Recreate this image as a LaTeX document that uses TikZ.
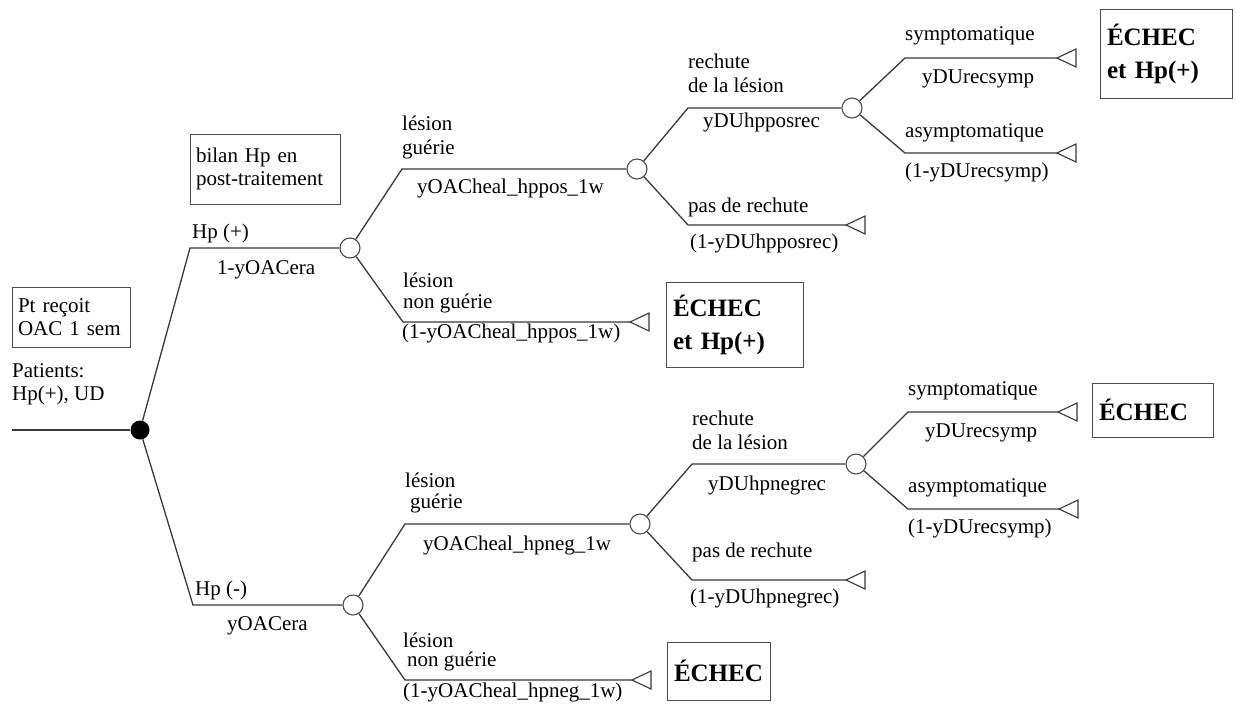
\documentclass[tikz,border=0pt]{standalone}
\usepackage{fontspec}
\setmainfont{Liberation Serif}
\begin{document}
\begin{tikzpicture}[x=1pt,y=-1pt,
  branch/.style={draw=black!78, line width=1.3pt},
  chance/.style={circle, draw=black!70, fill=white, line width=1.1pt, minimum size=20pt, inner sep=0pt},
  decision/.style={circle, fill=black, minimum size=19pt, inner sep=0pt},
  lbl/.style={anchor=base west, inner sep=0pt, font=\fontsize{21}{23}\selectfont},
  note/.style={draw=black!70, line width=0.8pt, align=left, font=\fontsize{21}{23}\selectfont, inner xsep=6pt, inner ysep=0pt},
  outcome/.style={draw=black!70, line width=0.8pt, align=left, font=\fontsize{25}{33}\selectfont\bfseries, inner xsep=7pt, inner ysep=0pt},
  term/.pic={\draw[draw=black!78, line width=1.1pt, line join=miter] (0,0) -- (19,-9) -- (19,9) -- cycle;}
]
\useasboundingbox (0,0) rectangle (1236,713);

% ---- tree nodes
\node[decision] (root) at (140,430) {};
\node[chance] (c1) at (350,248) {};
\node[chance] (c2) at (637,169) {};
\node[chance] (c3) at (852,108) {};
\node[chance] (c4) at (353,605) {};
\node[chance] (c5) at (640,524) {};
\node[chance] (c6) at (856,464) {};

% ---- branch corners and terminal points
\coordinate (in) at (12,430);
\coordinate (k0a) at (190,248);
\coordinate (k0b) at (193,605);
\coordinate (k11) at (402,169);
\coordinate (k12) at (403,322);  \coordinate (t12) at (630,322);
\coordinate (k21) at (688,108);
\coordinate (k22) at (688,225);  \coordinate (t22) at (846,225);
\coordinate (k31) at (905,58);   \coordinate (t31) at (1057,58);
\coordinate (k32) at (905,153);  \coordinate (t32) at (1057,153);
\coordinate (k41) at (405,524);
\coordinate (k42) at (405,680);  \coordinate (t42) at (632,680);
\coordinate (k51) at (692,464);
\coordinate (k52) at (692,580);  \coordinate (t52) at (846,580);
\coordinate (k61) at (908,412);  \coordinate (t61) at (1058,412);
\coordinate (k62) at (908,509);  \coordinate (t62) at (1059,509);

% ---- connectors
\draw[branch] (in) -- (root);
\draw[branch] (root) -- (k0a) -- (c1);
\draw[branch] (root) -- (k0b) -- (c4);
\draw[branch] (c1) -- (k11) -- (c2);
\draw[branch] (c1) -- (k12) -- (t12);
\draw[branch] (c2) -- (k21) -- (c3);
\draw[branch] (c2) -- (k22) -- (t22);
\draw[branch] (c3) -- (k31) -- (t31);
\draw[branch] (c3) -- (k32) -- (t32);
\draw[branch] (c4) -- (k41) -- (c5);
\draw[branch] (c4) -- (k42) -- (t42);
\draw[branch] (c5) -- (k51) -- (c6);
\draw[branch] (c5) -- (k52) -- (t52);
\draw[branch] (c6) -- (k61) -- (t61);
\draw[branch] (c6) -- (k62) -- (t62);

% ---- terminal triangles
\foreach \t in {t12,t22,t31,t32,t42,t52,t61,t62} \pic at (\t) {term};

% ---- boxed notes
\node[note, text width=106pt, minimum height=60pt] (ptbox) at (71,317) {Pt reçoit\\OAC 1 sem};
\node[note, text width=138pt, minimum height=70pt] (bilan) at (265,169) {bilan Hp en\\post-traitement};

% ---- outcome boxes
\node[outcome, text width=118pt, minimum height=89pt] (o1) at (1166,53.5) {ÉCHEC\\et Hp(+)};
\node[outcome, text width=123pt, minimum height=85pt] (o2) at (734.5,324.5) {ÉCHEC\\et Hp(+)};
\node[outcome, text width=107pt, minimum height=54pt] (o3) at (1152.5,410) {ÉCHEC};
\node[outcome, text width=89pt, minimum height=58pt] (o4) at (718.5,671) {ÉCHEC};

% ---- branch labels
\node[lbl] (pa) at (12,377) {Patients:};
\node[lbl] (pb) at (12,400) {Hp(+), UD};
\node[lbl] (hpp) at (192,238) {Hp (+)};
\node[lbl] (pera) at (217,274) {1-yOACera};
\node[lbl] (hpm) at (195,595) {Hp (-)};
\node[lbl] (nera) at (227,630) {yOACera};

\node[lbl] (a1) at (402,130) {lésion};
\node[lbl] (a2) at (402,154) {guérie};
\node[lbl] (a3) at (417,193) {yOACheal\_hppos\_1w};
\node[lbl] (b1) at (403,287) {lésion};
\node[lbl] (b2) at (403,308) {non guérie};
\node[lbl] (b3) at (402,338) {(1-yOACheal\_hppos\_1w)};
\node[lbl] (d1) at (688,68) {rechute};
\node[lbl] (d2) at (688,92) {de la lésion};
\node[lbl] (d3) at (703,127) {yDUhpposrec};
\node[lbl] (e1) at (688,212) {pas de rechute};
\node[lbl] (e2) at (690,248) {(1-yDUhpposrec)};
\node[lbl] (f1) at (905,40) {symptomatique};
\node[lbl] (f2) at (922,83) {yDUrecsymp};
\node[lbl] (g1) at (905,137) {asymptomatique};
\node[lbl] (g2) at (905,177) {(1-yDUrecsymp)};

\node[lbl] (h1) at (405,487) {lésion};
\node[lbl] (h2) at (410,508) {guérie};
\node[lbl] (h3) at (423,550) {yOACheal\_hpneg\_1w};
\node[lbl] (i1) at (403,647) {lésion};
\node[lbl] (i2) at (407,666) {non guérie};
\node[lbl] (i3) at (403,697) {(1-yOACheal\_hpneg\_1w)};
\node[lbl] (j1) at (692,425) {rechute};
\node[lbl] (j2) at (692,449) {de la lésion};
\node[lbl] (j3) at (708,490) {yDUhpnegrec};
\node[lbl] (m1) at (692,557) {pas de rechute};
\node[lbl] (m2) at (690,603) {(1-yDUhpnegrec)};
\node[lbl] (n1) at (908,395) {symptomatique};
\node[lbl] (n2) at (925,437) {yDUrecsymp};
\node[lbl] (q1) at (908,492) {asymptomatique};
\node[lbl] (q2) at (908,533) {(1-yDUrecsymp)};
\end{tikzpicture}
\end{document}
